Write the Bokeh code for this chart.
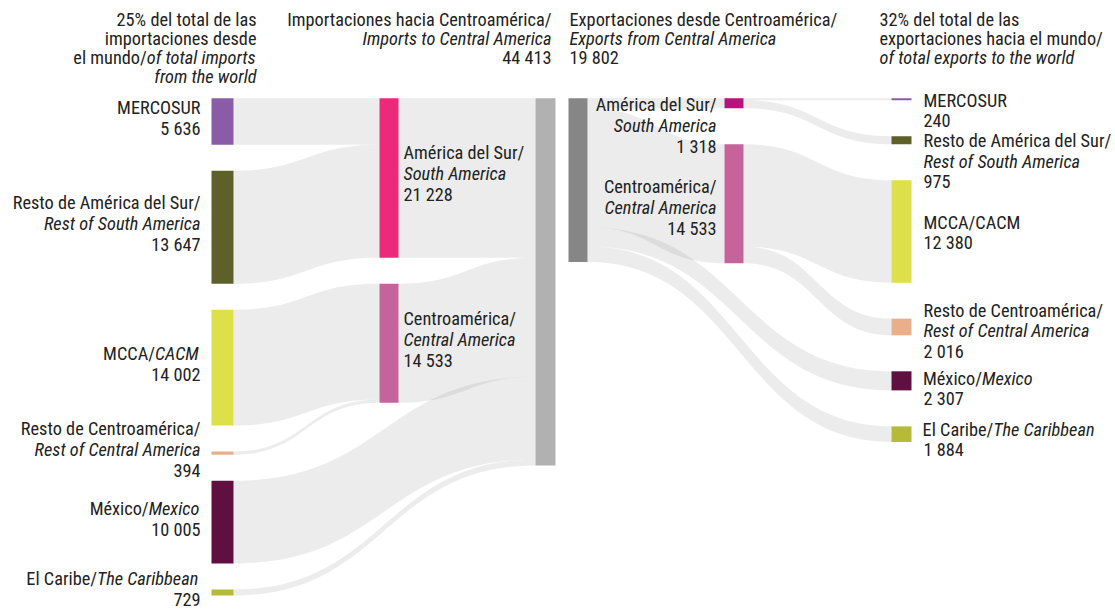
import numpy as np
from bokeh.plotting import figure
from bokeh.models import ColumnDataSource, Range1d
from bokeh.core.properties import value
from bokeh.embed import file_html
from bokeh.resources import INLINE

# ---------------- data (millions of dollars) ----------------
partner_keys = ["MERCOSUR", "RestoSur", "MCCA", "RestoCA", "Mexico", "Caribe"]
imp_values = [5636, 13647, 14002, 394, 10005, 729]      # imports into Central America, by origin
exp_values = [240, 975, 12380, 2016, 2307, 1884]        # exports from Central America, by destination
# regional aggregate of each partner: 0 = America del Sur, 1 = Centroamerica, -1 = direct
region_of = [0, 0, 1, 1, -1, -1]
region_es = ["América del Sur/", "Centroamérica/"]
region_en = ["South America", "Central America"]
imp_region_values = [21228, 14533]
exp_region_values = [1318, 14533]
imp_total = 44413
exp_total = 19802
imp_share = "25%"
exp_share = "32%"

left_labels = [
    [[("MERCOSUR", "normal")]],
    [[("Resto de América del Sur/", "normal")], [("Rest of South America", "italic")]],
    [[("MCCA/", "normal"), ("CACM", "italic")]],
    [[("Resto de Centroamérica/", "normal")], [("Rest of Central America", "italic")]],
    [[("México/", "normal"), ("Mexico", "italic")]],
    [[("El Caribe/", "normal"), ("The Caribbean", "italic")]],
]
right_labels = [
    [[("MERCOSUR", "normal")]],
    [[("Resto de América del Sur/", "normal")], [("Rest of South America", "italic")]],
    [[("MCCA/CACM", "normal")]],
    [[("Resto de Centroamérica/", "normal")], [("Rest of Central America", "italic")]],
    [[("México/", "normal"), ("Mexico", "italic")]],
    [[("El Caribe/", "normal"), ("The Caribbean", "italic")]],
]

partner_colors = ["#8a5ca7", "#5d6029", "#dee04b", "#e9af8b", "#5f1041", "#b5ba37"]
imp_region_colors = ["#ec297b", "#c5639b"]
exp_region_colors = ["#b8137c", "#c5639b"]
imp_total_color = "#b1b1b1"
exp_total_color = "#868686"
FLOW_COLOR = "#8c8c8c"
TEXT_COLOR = "#222222"

# ---------------- layout ----------------
FONT = "'Roboto Condensed', 'DejaVu Sans Condensed', 'Liberation Sans Narrow', 'Open Sans'"
FS = 18.3
WF = 0.88                      # condensed width relative to Roboto metrics
K = 367.3 / imp_total          # pixels per unit of value
TOP_PX = 97.7                  # pixel row of the top of the node columns
GAP_IMP = 26 / K
GAP_EXP = 36 / K
W, H = 1115, 613
BASE_SHIFT = -7.5              # empirical baseline correction of the svg text

IMP_X = [(211, 22), (379, 19), (535, 20)]
EXP_X = [(568, 19), (724, 19), (891, 20)]


def fmt(v):
    return f"{v:,}".replace(",", " ")


def Y(px):
    return (px - TOP_PX) / K


def stack(vals, gap):
    tops, cur = [], 0.0
    for v in vals:
        tops.append(cur)
        cur += v + gap
    return tops


# approximate Roboto advance widths (em/1000)
AW = dict(zip("abcdefghijklmnopqrstuvwxyz",
              [544, 560, 523, 551, 530, 346, 560, 540, 242, 238, 506, 242, 877,
               540, 557, 560, 560, 338, 516, 327, 540, 484, 741, 495, 473, 495]))
AW.update(dict(zip("ABCDEFGHIJKLMNOPQRSTUVWXYZ",
                   [652, 624, 651, 656, 568, 553, 681, 713, 272, 552, 627, 538, 873,
                    713, 687, 631, 687, 616, 594, 597, 649, 636, 887, 627, 601, 599])))
AW.update({" ": 248, "/": 412, "%": 732, "é": 530, "á": 544})
for d in "0123456789":
    AW[d] = 561


def tw(s):
    return sum(AW.get(c, 550) for c in s) * WF * FS / 1000.0


imp_left_tops = stack(imp_values, GAP_IMP)
imp_reg_sizes = [sum(v for v, r in zip(imp_values, region_of) if r == g) for g in (0, 1)]
imp_reg_tops = stack(imp_reg_sizes, GAP_IMP)
exp_right_tops = stack(exp_values, GAP_EXP)
exp_reg_sizes = [sum(v for v, r in zip(exp_values, region_of) if r == g) for g in (0, 1)]
exp_reg_tops = stack(exp_reg_sizes, GAP_EXP)

p = figure(width=W, height=H, x_range=Range1d(0, W),
           y_range=Range1d(Y(H), Y(0)),
           output_backend="svg", toolbar_location=None,
           x_axis_location=None, y_axis_location=None, min_border=0,
           outline_line_color=None, background_fill_color="white",
           border_fill_color="white")
p.xgrid.visible = False
p.ygrid.visible = False

# ---------------- flows ----------------
flows_x, flows_y = [], []


def ribbon(x0, a0, b0, x1, a1, b1, n=60):
    t = np.linspace(0, 1, n)
    xm = (x0 + x1) / 2
    bx = (1 - t) ** 3 * x0 + 3 * (1 - t) ** 2 * t * xm + 3 * (1 - t) * t ** 2 * xm + t ** 3 * x1
    s = 3 * t ** 2 - 2 * t ** 3
    top = a0 + (a1 - a0) * s
    bot = b0 + (b1 - b0) * s
    flows_x.append(list(np.concatenate([bx, bx[::-1]])))
    flows_y.append(list(np.concatenate([top, bot[::-1]])))


cur = [0.0, 0.0]
for i, v in enumerate(imp_values):
    g = region_of[i]
    if g >= 0:
        t0 = imp_left_tops[i]
        t1 = imp_reg_tops[g] + cur[g]
        ribbon(IMP_X[0][0] + IMP_X[0][1], t0, t0 + v, IMP_X[1][0], t1, t1 + v)
        cur[g] += v
tc = 0.0
for g in (0, 1):
    s = imp_reg_sizes[g]
    ribbon(IMP_X[1][0] + IMP_X[1][1], imp_reg_tops[g], imp_reg_tops[g] + s, IMP_X[2][0], tc, tc + s)
    tc += s
for i, v in enumerate(imp_values):
    if region_of[i] < 0:
        t0 = imp_left_tops[i]
        ribbon(IMP_X[0][0] + IMP_X[0][1], t0, t0 + v, IMP_X[2][0], tc, tc + v)
        tc += v

sc = 0.0
for g in (0, 1):
    s = exp_reg_sizes[g]
    ribbon(EXP_X[0][0] + EXP_X[0][1], sc, sc + s, EXP_X[1][0], exp_reg_tops[g], exp_reg_tops[g] + s)
    sc += s
for i, v in enumerate(exp_values):
    if region_of[i] < 0:
        t1 = exp_right_tops[i]
        ribbon(EXP_X[0][0] + EXP_X[0][1], sc, sc + v, EXP_X[2][0], t1, t1 + v)
        sc += v
cur = [0.0, 0.0]
for i, v in enumerate(exp_values):
    g = region_of[i]
    if g >= 0:
        t0 = exp_reg_tops[g] + cur[g]
        t1 = exp_right_tops[i]
        ribbon(EXP_X[1][0] + EXP_X[1][1], t0, t0 + v, EXP_X[2][0], t1, t1 + v)
        cur[g] += v

p.patches(xs=flows_x, ys=flows_y, fill_color=FLOW_COLOR, fill_alpha=0.165, line_color=None)

# ---------------- nodes ----------------
nl, nr, nt, nb, nc = [], [], [], [], []


def node(xw, top, size, color):
    nl.append(xw[0]); nr.append(xw[0] + xw[1]); nt.append(top); nb.append(top + size); nc.append(color)


for i, v in enumerate(imp_values):
    node(IMP_X[0], imp_left_tops[i], v, partner_colors[i])
for g in (0, 1):
    node(IMP_X[1], imp_reg_tops[g], imp_reg_sizes[g], imp_region_colors[g])
node(IMP_X[2], 0, imp_total, imp_total_color)
node(EXP_X[0], 0, exp_total, exp_total_color)
for g in (0, 1):
    node(EXP_X[1], exp_reg_tops[g], exp_reg_sizes[g], exp_region_colors[g])
for i, v in enumerate(exp_values):
    node(EXP_X[2], exp_right_tops[i], v, partner_colors[i])

p.quad(left=nl, right=nr, top=nt, bottom=nb, fill_color=nc, line_color=None)

# ---------------- texts ----------------
texts = {}


def put(x, y, s, align, style):
    d = texts.setdefault((align, style), dict(x=[], y=[], text=[]))
    d["x"].append(x); d["y"].append(y); d["text"].append(s)


def line(x, y, segs, align):
    # two-part lines keep an exact junction: first part ends where second begins
    if len(segs) == 1:
        put(x, y, segs[0][0], align, segs[0][1])
        return
    (s1, st1), (s2, st2) = segs
    split = x - tw(s2) if align == "right" else x + tw(s1)
    put(split, y, s1, "right", st1)
    put(split, y, s2, "left", st2)


CAP = 0.355 * FS + BASE_SHIFT  # cap centre -> drawing baseline


def block(x, first_cap_px, lines, align, lh):
    for j, segs in enumerate(lines):
        line(x, Y(first_cap_px + j * lh + CAP), segs, align)


def centered(x, center_px, lines, align, lh):
    n = len(lines)
    block(x, center_px - (n - 1) * lh / 2, lines, align, lh)


def node_px(top, size):
    return TOP_PX + top * K, TOP_PX + (top + size) * K


HB = [26, 45.3, 64.6, 83.9]
hdr_left = [[(f"{imp_share} del total de las", "normal")], [("importaciones desde", "normal")],
            [("el mundo/", "normal"), ("of total imports", "italic")], [("from the world", "italic")]]
hdr_imp = [[("Importaciones hacia Centroamérica/", "normal")], [("Imports to Central America", "italic")],
           [(fmt(imp_total), "normal")]]
hdr_exp = [[("Exportaciones desde Centroamérica/", "normal")], [("Exports from Central America", "italic")],
           [(fmt(exp_total), "normal")]]
hdr_right = [[(f"{exp_share} del total de las", "normal")], [("exportaciones hacia el mundo/", "normal")],
             [("of total exports to the world", "italic")]]
for segs, b in zip(hdr_left, HB):
    line(256, Y(b + BASE_SHIFT), segs, "right")
for segs, b in zip(hdr_imp, HB):
    line(551, Y(b + BASE_SHIFT), segs, "right")
for segs, b in zip(hdr_exp, HB):
    line(569, Y(b + BASE_SHIFT), segs, "left")
for segs, b in zip(hdr_right, HB):
    line(879, Y(b + BASE_SHIFT), segs, "left")

for i, v in enumerate(imp_values):
    a, b = node_px(imp_left_tops[i], v)
    lines = left_labels[i] + [[(fmt(v), "normal")]]
    centered(IMP_X[0][0] - 11, (a + b) / 2 - 2.5, lines, "right", 21)

for g in (0, 1):
    a, b = node_px(imp_reg_tops[g], imp_reg_sizes[g])
    lines = [[(region_es[g], "normal")], [(region_en[g], "italic")], [(fmt(imp_region_values[g]), "normal")]]
    centered(IMP_X[1][0] + IMP_X[1][1] + 5, (a + b) / 2 - 3, lines, "left", 21)

for g in (0, 1):
    a, b = node_px(exp_reg_tops[g], exp_reg_sizes[g])
    lines = [[(region_es[g], "normal")], [(region_en[g], "italic")], [(fmt(exp_region_values[g]), "normal")]]
    if g == 0:
        block(EXP_X[1][0] - 8, a + 7, lines, "right", 21)
    else:
        centered(EXP_X[1][0] - 8, (a + b) / 2 + 5, lines, "right", 21)

right_first = [3, 5.7, None, -7.3, 8, 4]
for i, v in enumerate(exp_values):
    a, b = node_px(exp_right_tops[i], v)
    lines = right_labels[i] + [[(fmt(v), "normal")]]
    x = EXP_X[2][0] + EXP_X[2][1] + 12
    if right_first[i] is None:
        centered(x, (a + b) / 2 + 2.3, lines, "left", 20.5)
    else:
        block(x, a + right_first[i], lines, "left", 20.5)

for (align, style), d in texts.items():
    p.text(x="x", y="y", text="text", source=ColumnDataSource(d),
           text_font=value(FONT), text_font_size=value(f"{FS}px"), text_font_style=style,
           text_align=align, text_baseline="alphabetic", text_color=TEXT_COLOR)

open("out.html", "w").write(file_html(p, INLINE))
